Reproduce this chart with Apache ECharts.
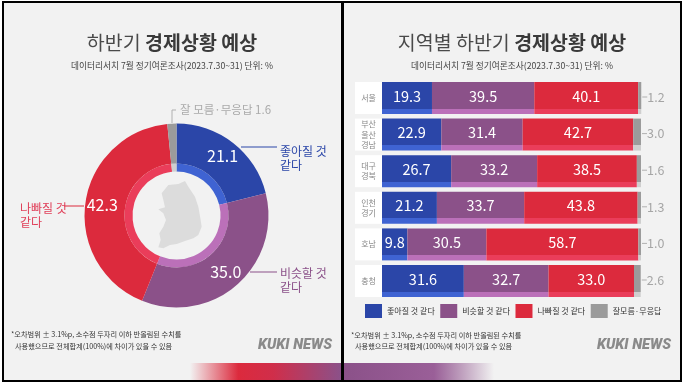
<!DOCTYPE html>
<html><head><meta charset="utf-8">
<style>html,body{margin:0;padding:0;background:#fff}#c{width:685px;height:385px}</style>
<script src="https://cdn.jsdelivr.net/npm/echarts@6/dist/echarts.min.js"></script>
</head><body><div id="c"></div>
<script>
const FONT = '"Noto Sans CJK KR","Noto Sans",sans-serif';
const pieNames = ['좋아질 것 같다', '비슷할 것 같다', '나빠질 것 같다', '잘 모름·무응답'];
const pieValues = [21.1, 35.0, 42.3, 1.6];
const regions = ['서울', '부산\n울산\n경남', '대구\n경북', '인천\n경기', '호남', '충청'];
const better = [19.3, 22.9, 26.7, 21.2, 9.8, 31.6];
const same = [39.5, 31.4, 33.2, 33.7, 30.5, 32.7];
const worse = [40.1, 42.7, 38.5, 43.8, 58.7, 33.0];
const unknown = [1.2, 3.0, 1.6, 1.3, 1.0, 2.6];
const legendNames = ['좋아질 것 같다', '비슷할 것 같다', '나빠질 것 같다', '잘모름·무응답'];
const main = ['#2b46a8', '#8b5189', '#dc2a3d', '#9b9b9b'];
const light = ['#3f63d2', '#bb70b9', '#ea3d5a', '#cfcfcf'];
const subtitle = '데이터리서치 7월 정기여론조사(2023.7.30~31) 단위: %';
const note1 = '*오차범위 ± 3.1%p, 소수점 두자리 이하 반올림된 수치를';
const note2 = '사용했으므로 전체합계(100%)에 차이가 있을 수 있음';

const strip = i => ({type:'linear',x:0,y:0,x2:0,y2:1,colorStops:[
  {offset:0,color:main[i]},{offset:0.83,color:main[i]},{offset:0.83,color:light[i]},{offset:1,color:light[i]}]});
const barSeries = (name, data, i) => ({
  type:'bar', name, data, stack:'s', barWidth:32, clip:false, silent:true,
  itemStyle:{color:strip(i)},
  label:{show:true, position:'inside', offset:[0,-2], color:'#fff', fontFamily:FONT, fontSize:14.5,
    formatter:p=>p.value.toFixed(1)}
});
const txt = (x,y,text,color,size,extra) => ({type:'text',x,y,silent:true,
  style:Object.assign({text,fill:color,fontFamily:FONT,fontSize:size,lineHeight:size+2},extra||{})});
const leader = (x1,y1,x2,y2,color) => ({type:'line',silent:true,shape:{x1,y1,x2,y2},style:{stroke:color,lineWidth:1}});
const kuki = x => txt(x,337,'KUKI NEWS','#8a8a8a',14.5,{fontFamily:'Roboto,sans-serif',fontWeight:900,fontStyle:'italic'});
const mapPts = [[165,33],[175,50],[195,80],[205,110],[212,150],[215,170],[205,195],[190,205],[165,213],[140,222],[120,225],[100,235],[85,232],[92,210],[88,190],[100,170],[108,150],[100,130],[85,118],[105,112],[100,90],[95,70],[115,45],[145,42]]
  .map(p=>[130+p[0]/3,170+p[1]/3]);

const titleStyle = {fontFamily:FONT,fontSize:19.5,fontWeight:'normal',color:'#4a4a4a',rich:{b:{fontFamily:FONT,fontSize:19.5,fontWeight:'bold',color:'#3a3a3a'}}};
const subStyle = {fontFamily:FONT,fontSize:8.7,fontWeight:'normal',color:'#444'};

const chart = echarts.init(document.getElementById('c'),null,{renderer:'canvas'});
chart.setOption({
  animation:false,
  backgroundColor:'#fff',
  title:[
    {text:'하반기 {b|경제상황 예상}',left:172,top:33,textAlign:'center',textStyle:titleStyle,padding:0},
    {text:subtitle,left:172,top:61,textAlign:'center',textStyle:subStyle,padding:0},
    {text:'지역별 하반기 {b|경제상황 예상}',left:512,top:33,textAlign:'center',textStyle:titleStyle,padding:0},
    {text:subtitle,left:512,top:61,textAlign:'center',textStyle:subStyle,padding:0}
  ],
  legend:{left:365,top:304,padding:0,icon:'rect',itemWidth:17,itemHeight:14,itemGap:5.5,selectedMode:false,
    textStyle:{fontFamily:FONT,fontSize:8,color:'#333'},
    data:legendNames.map((name,i)=>({name,itemStyle:{color:main[i]}}))},
  grid:{left:382,width:259,top:79.7,height:219.6,containLabel:false},
  xAxis:{type:'value',min:0,max:100,show:false},
  yAxis:{type:'category',inverse:true,data:regions,
    axisLine:{show:false},axisTick:{show:false},
    axisLabel:{margin:13.5,align:'center',width:27,height:32,backgroundColor:'#fff',overflow:'none',
      lineHeight:10.5,fontFamily:FONT,fontSize:8,color:'#888',verticalAlign:'middle'}},
  series:[
    {type:'pie',center:[176.5,215.5],radius:[44,52],startAngle:90,clockwise:true,silent:true,
      label:{show:false},labelLine:{show:false},
      data:pieNames.map((name,i)=>({name,value:pieValues[i],itemStyle:{color:light[i]}}))},
    {type:'pie',center:[176.5,215.5],radius:[52,92],startAngle:90,clockwise:true,silent:true,
      labelLine:{show:false},
      label:{show:true,position:'inside',color:'#fff',fontFamily:FONT,fontSize:16,formatter:p=>p.dataIndex===3?'':p.value.toFixed(1)},
      data:pieNames.map((name,i)=>({name,value:pieValues[i],itemStyle:{color:main[i]}}))},
    barSeries(legendNames[0],better,0),
    barSeries(legendNames[1],same,1),
    barSeries(legendNames[2],worse,2),
    Object.assign(barSeries(legendNames[3],unknown,3),{
      label:{show:true,position:'right',distance:1,fontFamily:FONT,color:'#a5a5a5',fontSize:12.5,offset:[0,-1],
        formatter:p=>'{d|}'+p.value.toFixed(1),
        rich:{d:{width:5,height:1,backgroundColor:'#b0b0b0',padding:0}}}})
  ],
  graphic:[
    {type:'rect',silent:true,z:-10,shape:{x:2,y:1,width:680,height:381},style:{fill:'#000'}},
    {type:'rect',silent:true,z:-9,shape:{x:4,y:3,width:337,height:377},style:{fill:'#f2f2f2'}},
    {type:'rect',silent:true,z:-9,shape:{x:344,y:3,width:336,height:377},style:{fill:'#f2f2f2'}},
    {type:'rect',silent:true,z:-8,shape:{x:190,y:363,width:151,height:17},style:{fill:{type:'linear',x:0,y:0,x2:1,y2:0,colorStops:[
      {offset:0,color:'rgba(220,42,61,0)'},{offset:0.32,color:'#dc2a3d'},{offset:0.55,color:'#d02e4a'},{offset:1,color:'#8b5189'}]}}},
    {type:'rect',silent:true,z:-8,shape:{x:344,y:363,width:150,height:17},style:{fill:{type:'linear',x:0,y:0,x2:1,y2:0,colorStops:[
      {offset:0,color:'#8b5189'},{offset:0.6,color:'#9a5f98'},{offset:1,color:'rgba(139,81,137,0)'}]}}},
    {type:'polygon',silent:true,shape:{points:mapPts},style:{fill:'#dcdcdc'}},
    leader(241,147,277,147,main[0]),
    leader(250,272,277,272,main[1]),
    leader(64,206,84,206,main[2]),
    leader(172,110,172,123,'#b0b0b0'),
    leader(172,110,176,110,'#b0b0b0'),
    txt(280,144,'좋아질 것\n같다',main[0],12),
    txt(280,266,'비슷할 것\n같다',main[1],12),
    txt(20,201,'나빠질 것\n같다','#e0405a',12),
    txt(180,103,'잘 모름·무응답 '+pieValues[3].toFixed(1),'#aaaaaa',11.5),
    txt(11,330,note1,'#333',7.2),
    txt(15,342,note2,'#333',7.2),
    txt(351,331,note1,'#333',7.2),
    txt(355,342,note2,'#333',7.2),
    kuki(258),
    kuki(597)
  ]
});
</script></body></html>
